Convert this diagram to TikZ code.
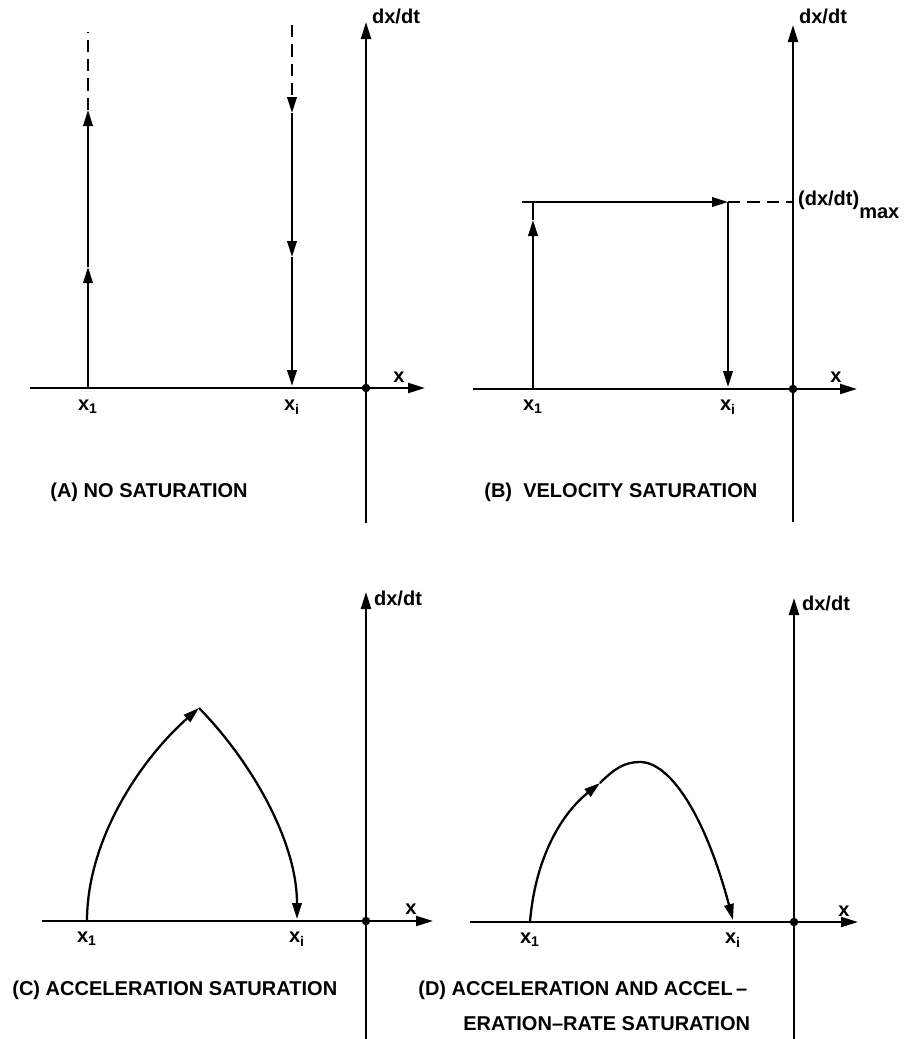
\documentclass[tikz,border=0pt]{standalone}
\usepackage{fontspec}
\setmainfont{Liberation Sans}
\usetikzlibrary{arrows.meta}
\newcommand{\capfont}{\bfseries\fontsize{11.4}{13.6}\selectfont}
\tikzset{
  axis/.style   = {line width=1.3pt, -{Triangle[length=3.4mm,width=2mm]}},
  traj/.style   = {line width=1.3pt},
  go/.style     = {line width=1.3pt, -{Triangle[length=3.2mm,width=1.9mm]}},
  ext/.style    = {line width=1.3pt, dash pattern=on 7pt off 4pt},
  origin/.style = {circle, fill=black, inner sep=0pt, minimum size=1.7mm},
}

\begin{document}
\begin{tikzpicture}[
    x=0.02cm, y=-0.02cm,
    every node/.style={font=\capfont, inner sep=1pt},
    caption/.style={anchor=west, inner sep=0pt}
]
\useasboundingbox (0,0) rectangle (913,1039);

% ---------------- (A) no saturation ----------------
\coordinate (xlA) at (30,388);
\coordinate (xrA) at (425,388);
\coordinate (ybA) at (366,523);
\coordinate (ytA) at (366,22);
\draw[axis] (xlA) -- (xrA);
\draw[axis] (ybA) -- (ytA);
\node[origin] (oA) at (366,388) {};
\node[anchor=west] (dxA) at (370,16) {dx/dt};
\node (xA) at (399,377) {x};

\coordinate (s1A) at (88,388);
\coordinate (m1A) at (88,267);
\coordinate (t1A) at (88,110);
\coordinate (d1A) at (88,32);
\draw[go] (s1A) -- (m1A);
\draw[go] (m1A) -- (t1A);
\draw[ext] (t1A) -- (d1A);

\coordinate (diA) at (292,25);
\coordinate (tiA) at (292,113);
\coordinate (miA) at (292,257);
\coordinate (siA) at (292,386);
\draw[ext, -{Triangle[length=3.2mm,width=1.9mm]}] (diA) -- (tiA);
\draw[go] (tiA) -- (miA);
\draw[go] (miA) -- (siA);

\node (l1A) at (88,407) {x\textsubscript{1}};
\node (liA) at (292,407) {x\textsubscript{i}};
\node[caption] (capA) at (50,492) {(A) NO SATURATION};

% ---------------- (B) velocity saturation ----------------
\coordinate (xlB) at (473,389);
\coordinate (xrB) at (857,389);
\coordinate (ybB) at (793,522);
\coordinate (ytB) at (793,25);
\draw[axis] (xlB) -- (xrB);
\draw[axis] (ybB) -- (ytB);
\node[origin] (oB) at (793,389) {};
\node[anchor=west] (dxB) at (797,16) {dx/dt};
\node (xB) at (836,377) {x};

\coordinate (s1B) at (533,389);
\coordinate (m1B) at (533,220);
\coordinate (t1B) at (533,202);
\coordinate (cB) at (522,202);
\coordinate (cnB) at (728,202);
\coordinate (siB) at (728,387);
\coordinate (vmB) at (793,202);
\draw[go] (s1B) -- (m1B);
\draw[traj] (m1B) -- (t1B);
\draw[go] (cB) -- (cnB);
\draw[go] (cnB) -- (siB);
\draw[ext] (cnB) -- (vmB);
\node[anchor=west] (vmax) at (796,205)
  {(dx/dt)\raisebox{-1.2ex}{max}};

\node (l1B) at (533,407) {x\textsubscript{1}};
\node (liB) at (728,407) {x\textsubscript{i}};
\node[caption] (capB) at (484,492) {(B)\ \ VELOCITY SATURATION};

% ---------------- (C) acceleration saturation ----------------
\coordinate (xlC) at (42,921);
\coordinate (xrC) at (433,921);
\coordinate (ybC) at (366,1039);
\coordinate (ytC) at (366,592);
\draw[axis] (xlC) -- (xrC);
\draw[axis] (ybC) -- (ytC);
\node[origin] (oC) at (366,921) {};
\node[anchor=west] (dxC) at (372,598) {dx/dt};
\node (xC) at (411,909) {x};

\coordinate (s1C) at (87,921);
\coordinate (pkC) at (199,708);
\coordinate (siC) at (297,919);
\draw[go] (s1C) .. controls (87,840) and (140,760) .. (pkC);
\draw[go] (pkC) .. controls (250,760) and (297,840) .. (siC);

\node (l1C) at (87,939) {x\textsubscript{1}};
\node (liC) at (297,939) {x\textsubscript{i}};
\node[caption] (capC) at (12,990) {(C) ACCELERATION SATURATION};

% ---------------- (D) acceleration and acceleration-rate saturation ----------------
\coordinate (xlD) at (470,922);
\coordinate (xrD) at (858,922);
\coordinate (ybD) at (794,1039);
\coordinate (ytD) at (794,598);
\draw[axis] (xlD) -- (xrD);
\draw[axis] (ybD) -- (ytD);
\node[origin] (oD) at (794,922) {};
\node[anchor=west] (dxD) at (800,603) {dx/dt};
\node (xD) at (844,911) {x};

\coordinate (s1D) at (530,922);
\coordinate (mD) at (600,783);
\coordinate (pkD) at (640,762);
\coordinate (siD) at (733,920);
\draw[go] (s1D) .. controls (535,860) and (560,815) .. (mD);
\draw[go] (mD) .. controls (615,768) and (625,762) .. (pkD)
  .. controls (670,762) and (705,815) .. (siD);

\node (l1D) at (530,940) {x\textsubscript{1}};
\node (liD) at (733,940) {x\textsubscript{i}};
\node[caption] (capD) at (418,990) {(D) ACCELERATION AND ACCEL\,--};
\node[caption] (capD2) at (463,1024) {ERATION--RATE SATURATION};

\end{tikzpicture}
\end{document}
